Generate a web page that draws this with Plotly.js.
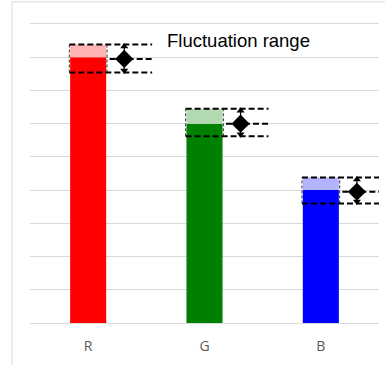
<!DOCTYPE html>
<html>
<head>
<meta charset="utf-8">
<script src="https://cdn.plot.ly/plotly-3.0.1.min.js"></script>
<style>html,body{margin:0;padding:0;background:#fff;}#chart{width:385px;height:365px;}</style>
</head>
<body>
<div id="chart"></div>
<script>
// ---- data ----
const categories = ['R', 'G', 'B'];
const values = [8, 6, 4];
const highs = [8.38, 6.45, 4.38];
const lows = [7.54, 5.62, 3.6];
const mids = [7.95, 6.0, 3.95];
const solidColors = ['#FF0000', '#008000', '#0000FF'];
const lightColors = ['#FFB3B3', '#B3D9B3', '#B3B3FF'];
const chartTitle = 'Fluctuation range';

// ---- layout helpers ----
const xs = categories.map((c, i) => i);
const barW = 0.31;
const boxHalf = 0.162;
const markOff = 0.31;
const lineEnd = 0.55;
const midStart = 0.185;

const traces = [];
traces.push({
  type: 'bar', x: xs, y: values, width: barW,
  marker: {color: solidColors, line: {width: 0}},
  hoverinfo: 'skip', showlegend: false
});
traces.push({
  type: 'bar', x: xs, y: highs.map((h, i) => h - values[i]), base: values, width: barW,
  marker: {color: lightColors, line: {width: 0}},
  hoverinfo: 'skip', showlegend: false
});

const shapes = [];
const dashH = {color: '#000', width: 2, dash: '6px,3px'};
const dashV = {color: '#333', width: 1, dash: '3px,2px'};
xs.forEach((x, i) => {
  shapes.push({type: 'line', xref: 'x', yref: 'y', x0: x - boxHalf, x1: x - boxHalf, y0: lows[i], y1: highs[i], line: dashV});
  shapes.push({type: 'line', xref: 'x', yref: 'y', x0: x + boxHalf, x1: x + boxHalf, y0: lows[i], y1: highs[i], line: dashV});
  shapes.push({type: 'line', xref: 'x', yref: 'y', x0: x - boxHalf, x1: x + lineEnd, y0: highs[i], y1: highs[i], line: dashH});
  shapes.push({type: 'line', xref: 'x', yref: 'y', x0: x - boxHalf, x1: x + lineEnd, y0: lows[i], y1: lows[i], line: dashH});
  shapes.push({type: 'line', xref: 'x', yref: 'y', x0: x + midStart, x1: x + lineEnd, y0: mids[i], y1: mids[i], line: dashH});
  traces.push({
    type: 'scatter', mode: 'lines+markers', x: [x + markOff, x + markOff], y: [lows[i] + 0.06, highs[i] - 0.06],
    line: {color: '#000', width: 1.2},
    marker: {symbol: ['triangle-down', 'triangle-up'], size: 7, color: '#000'},
    hoverinfo: 'skip', showlegend: false, cliponaxis: false
  });
});
traces.push({
  type: 'scatter', mode: 'markers', x: xs.map(x => x + markOff), y: mids,
  marker: {symbol: 'diamond', size: 14, color: '#000'},
  hoverinfo: 'skip', showlegend: false, cliponaxis: false
});

shapes.push({type: 'rect', xref: 'paper', yref: 'paper', x0: -0.0516, x1: 1.2, y0: -0.3, y1: 1.067,
  line: {color: '#D9D9D9', width: 1}, fillcolor: 'rgba(0,0,0,0)', layer: 'below'});

const layout = {
  width: 385, height: 365,
  margin: {l: 30, r: 6, t: 22, b: 42, pad: 0},
  paper_bgcolor: '#fff', plot_bgcolor: '#fff',
  barmode: 'overlay',
  showlegend: false,
  xaxis: {
    range: [-0.5, 2.5], tickvals: xs, ticktext: categories,
    showgrid: false, zeroline: false, showline: false,
    ticks: 'outside', ticklen: 10, tickcolor: 'rgba(0,0,0,0)',
    tickfont: {family: 'Open Sans, sans-serif', size: 14, color: '#595959'},
    fixedrange: true
  },
  yaxis: {
    range: [0, 9.06], tickvals: [0, 1, 2, 3, 4, 5, 6, 7, 8, 9], showticklabels: false, ticks: '',
    showgrid: true, gridcolor: '#D9D9D9', gridwidth: 1,
    zeroline: true, zerolinecolor: '#D9D9D9', zerolinewidth: 1,
    showline: false, fixedrange: true
  },
  shapes: shapes,
  annotations: [{
    text: chartTitle, xref: 'paper', yref: 'paper', x: 0.598, y: 0.94,
    xanchor: 'center', yanchor: 'middle', showarrow: false,
    font: {family: 'Liberation Sans, Arial, sans-serif', size: 18.5, color: '#000'}
  }]
};

Plotly.newPlot('chart', traces, layout, {displayModeBar: false, staticPlot: true});
</script>
</body>
</html>
